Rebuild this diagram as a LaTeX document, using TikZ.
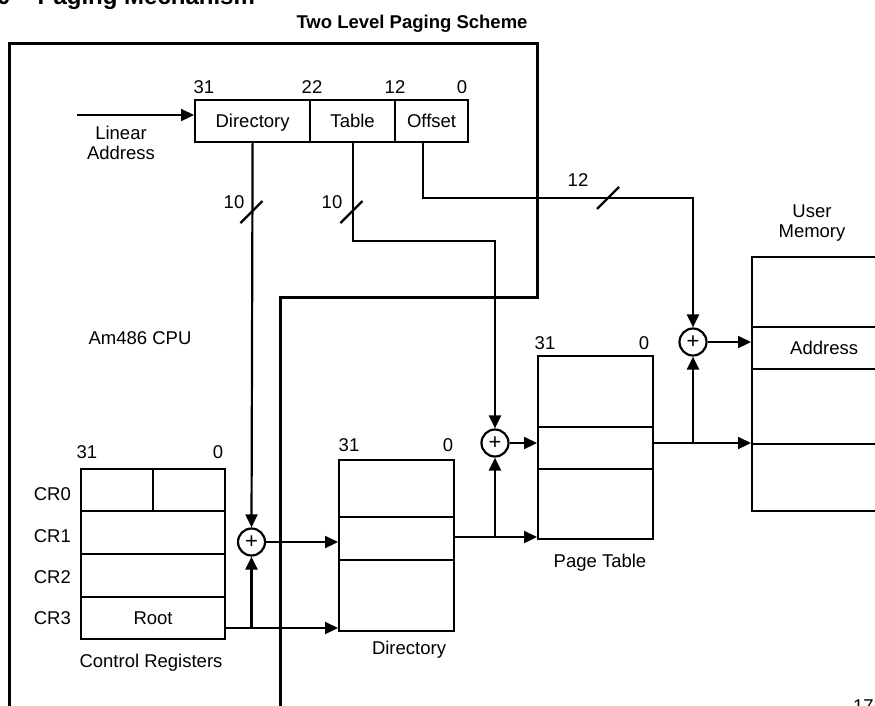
\documentclass[tikz,border=0pt]{standalone}
\usepackage{fontspec}
\setmainfont{Liberation Sans}
\usetikzlibrary{arrows.meta}
\newcommand{\lbl}{\fontsize{18.5}{20}\selectfont}

\begin{document}
\begin{tikzpicture}[x=1pt, y=-1pt, font=\lbl]
        \tikzstyle{cell} = [draw, line width=2.2pt, anchor=north west, inner sep=0pt, text height=13.3pt, text depth=0pt]
        \tikzstyle{sum} = [draw, circle, line width=2.2pt, minimum size=27pt, inner sep=0pt, font=\fontsize{22}{22}\selectfont]
        \tikzstyle{bit} = [inner sep=0pt]
        \tikzstyle{wire} = [line width=2.2pt]
        \tikzstyle{arr} = [-{Triangle[length=13pt, width=12pt]}, line width=2.2pt]
        \useasboundingbox (0,0) rectangle (875,705);
        \clip (0,0) rectangle (875,705);

        % headings
        \node[anchor=base west, inner sep=0pt, font=\bfseries\fontsize{24}{28}\selectfont] (fig) at (-3,4) {0\hspace{27pt}Paging Mechanism};
        \node[font=\bfseries\lbl] (title) at (412,24) {Two Level Paging Scheme};
        \node[anchor=base west, inner sep=0pt] (figno) at (853,712) {178};

        % CPU boundary
        \draw[line width=3pt] (9,720) -- (9,43) -- (537,43) -- (537,297) -- (280,297) -- (280,720);
        \node (cpu) at (140,338) {Am486 CPU};

        % linear address
        \node[cell, minimum width=115pt, minimum height=42pt] (dirf) at (194,99) {Directory};
        \node[cell, minimum width=85pt, minimum height=42pt] (tabf) at (309,99) {Table};
        \node[cell, minimum width=73pt, minimum height=42pt] (offf) at (394,99) {Offset};
        \node[bit] (la31) at (204,87) {31};
        \node[bit] (la22) at (312,87) {22};
        \node[bit] (la12) at (395,87) {12};
        \node[bit] (la0) at (462,87) {0};
        \node[align=center, inner sep=0pt] (lin) at (121,143) {Linear\\Address};
        \coordinate (lina) at (77,115);
        \draw[arr] (lina) -- (lina -| dirf.west);

        % control registers
        \node[cell, minimum width=72pt, minimum height=42pt] (cr0a) at (80,468) {};
        \node[cell, minimum width=72pt, minimum height=42pt] (cr0b) at (152,468) {};
        \node[cell, minimum width=144pt, minimum height=43pt] (cr1) at (80,510) {};
        \node[cell, minimum width=144pt, minimum height=43pt] (cr2) at (80,553) {};
        \node[cell, minimum width=144pt, minimum height=42pt] (cr3) at (80,596) {Root};
        \node[bit, anchor=east] (lcr0) at (71,494) {CR0};
        \node[bit, anchor=east] (lcr1) at (71,536) {CR1};
        \node[bit, anchor=east] (lcr2) at (71,577) {CR2};
        \node[bit, anchor=east] (lcr3) at (71,618) {CR3};
        \node[bit] (cr31) at (87,452) {31};
        \node[bit] (crz) at (218,452) {0};
        \node (crname) at (151,663) {Control Registers};

        % directory
        \node[cell, minimum width=115pt, minimum height=57pt] (dir1) at (338,459) {};
        \node[cell, minimum width=115pt, minimum height=43pt] (dir2) at (338,516) {};
        \node[cell, minimum width=115pt, minimum height=71pt] (dir3) at (338,559) {};
        \node[bit] (dir31) at (349,445) {31};
        \node[bit] (dirz) at (448,445) {0};
        \node (dirname) at (409,650) {Directory};

        % page table
        \node[cell, minimum width=115pt, minimum height=71pt] (pt1) at (537,355) {};
        \node[cell, minimum width=115pt, minimum height=42pt] (pt2) at (537,426) {};
        \node[cell, minimum width=115pt, minimum height=70pt] (pt3) at (537,468) {};
        \node[bit] (pt31) at (545,343) {31};
        \node[bit] (ptz) at (644,343) {0};
        \node (ptname) at (600,563) {Page Table};

        % user memory
        \node[cell, minimum width=144pt, minimum height=70pt] (mem1) at (751,256) {};
        \node[cell, minimum width=144pt, minimum height=42pt] (mem2) at (751,326) {Address};
        \node[cell, minimum width=144pt, minimum height=75pt] (mem3) at (751,368) {};
        \node[cell, minimum width=144pt, minimum height=67pt] (mem4) at (751,443) {};
        \node[align=center, inner sep=0pt] (memname) at (812,223) {User\\Memory};

        % adders
        \node[sum] (p1) at (251.5,542) {+};
        \node[sum] (p2) at (495,443) {+};
        \node[sum] (p3) at (693,342) {+};

        % directory index
        \coordinate (s1) at (251.5,212);
        \draw[arr] (dirf.south) -- (p1.north);
        \draw[wire] (s1) +(-11,11) -- +(11,-11);
        \node (n10a) at (234,202) {10};

        % table index
        \coordinate (t1) at (495,241);
        \coordinate (s2) at (351.5,212);
        \draw[arr] (tabf.south) |- (t1) -- (p2.north);
        \draw[wire] (s2) +(-11,11) -- +(11,-11);
        \node (n10b) at (332,202) {10};

        % offset
        \coordinate (o1) at (423,198);
        \coordinate (s3) at (608,198);
        \draw[arr] (o1 |- offf.south) -- (o1) -| (p3.north);
        \draw[wire] (s3) +(-11,11) -- +(11,-11);
        \node (n12) at (578,180) {12};

        % root to directory
        \coordinate (c3) at (224,628);
        \draw[arr] (c3) -- (c3 -| dir3.west);
        \draw[arr] (c3 -| p1) -- (p1.south);
        \draw[arr] (p1.east) -- (p1.east -| dir2.west);

        % directory entry to page table
        \coordinate (d2) at (453,537);
        \draw[arr] (d2) -- (d2 -| pt3.west);
        \draw[arr] (d2 -| p2) -- (p2.south);
        \draw[arr] (p2.east) -- (p2.east -| pt2.west);

        % page table entry to memory
        \coordinate (e2) at (652,443);
        \draw[arr] (e2) -- (e2 -| mem4.west);
        \draw[arr] (e2 -| p3) -- (p3.south);
        \draw[arr] (p3.east) -- (p3.east -| mem2.west);
      \end{tikzpicture}
\end{document}
